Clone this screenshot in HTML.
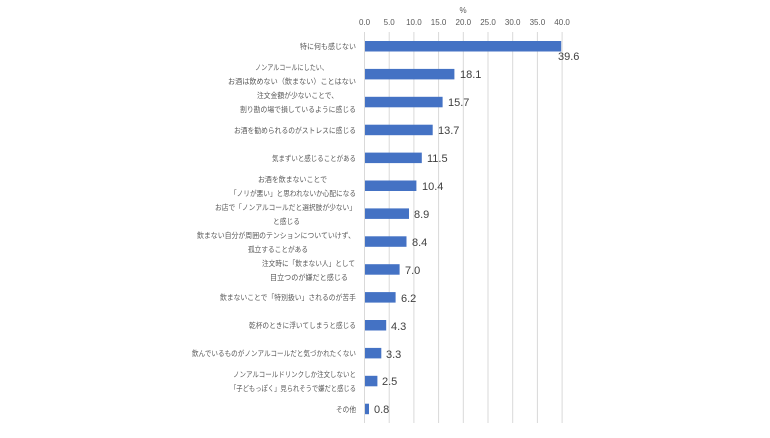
<!DOCTYPE html>
<html><head><meta charset="utf-8"><style>
html,body{margin:0;padding:0;background:#fff;}
svg text{font-family:"Liberation Sans","Noto Sans CJK JP",sans-serif;}
.l{font-size:7.6px;fill:#595959;}
.v{font-size:11px;fill:#404040;font-family:"DejaVu Sans","Liberation Sans",sans-serif;}
.t{font-size:8px;fill:#595959;}
</style></head><body>
<svg width="770" height="433" xmlns="http://www.w3.org/2000/svg">
<g stroke="#d9d9d9" stroke-width="1">
<line x1="389.2" y1="32" x2="389.2" y2="423"/><line x1="413.9" y1="32" x2="413.9" y2="423"/>
<line x1="438.6" y1="32" x2="438.6" y2="423"/><line x1="463.3" y1="32" x2="463.3" y2="423"/>
<line x1="488" y1="32" x2="488" y2="423"/><line x1="512.7" y1="32" x2="512.7" y2="423"/>
<line x1="537.4" y1="32" x2="537.4" y2="423"/><line x1="562.1" y1="32" x2="562.1" y2="423"/>
<line x1="364.5" y1="32" x2="364.5" y2="423"/>
</g>
<text x="463" y="13" class="t" text-anchor="middle">%</text>
<g class="t" text-anchor="middle">
<text x="364.5" y="25">0.0</text><text x="389.2" y="25">5.0</text><text x="413.9" y="25">10.0</text>
<text x="438.6" y="25">15.0</text><text x="463.3" y="25">20.0</text><text x="488" y="25">25.0</text>
<text x="512.7" y="25">30.0</text><text x="537.4" y="25">35.0</text><text x="562.1" y="25">40.0</text>
</g>
<g fill="#4472c4">
<rect x="365" y="41" width="196.2" height="10.5"/>
<rect x="365" y="68.9" width="89.4" height="10.5"/>
<rect x="365" y="96.8" width="77.6" height="10.5"/>
<rect x="365" y="124.7" width="67.7" height="10.5"/>
<rect x="365" y="152.6" width="56.8" height="10.5"/>
<rect x="365" y="180.5" width="51.4" height="10.5"/>
<rect x="365" y="208.4" width="44" height="10.5"/>
<rect x="365" y="236.3" width="41.5" height="10.5"/>
<rect x="365" y="264.2" width="34.6" height="10.5"/>
<rect x="365" y="292.1" width="30.6" height="10.5"/>
<rect x="365" y="320" width="21.2" height="10.5"/>
<rect x="365" y="347.9" width="16.3" height="10.5"/>
<rect x="365" y="375.8" width="12.4" height="10.5"/>
<rect x="365" y="403.7" width="4" height="10.5"/>
</g>
<g class="v">
<text x="558" y="60">39.6</text>
<text x="460" y="78">18.1</text>
<text x="448" y="106">15.7</text>
<text x="438" y="134">13.7</text>
<text x="427" y="162">11.5</text>
<text x="422" y="190">10.4</text>
<text x="414" y="218">8.9</text>
<text x="412" y="246">8.4</text>
<text x="405" y="274">7.0</text>
<text x="401" y="302">6.2</text>
<text x="391" y="330">4.3</text>
<text x="386" y="358">3.3</text>
<text x="382" y="385">2.5</text>
<text x="374" y="413">0.8</text>
</g>
<g class="l" lengthAdjust="spacingAndGlyphs">
<text x="300" y="49" textLength="56" lengthAdjust="spacingAndGlyphs">特に何も感じない</text>
<text x="234" y="133" textLength="122" lengthAdjust="spacingAndGlyphs">お酒を勧められるのがストレスに感じる</text>
<text x="272" y="161" textLength="84" lengthAdjust="spacingAndGlyphs">気まずいと感じることがある</text>
<text x="220" y="300" textLength="136" lengthAdjust="spacingAndGlyphs">飲まないことで「特別扱い」されるのが苦手</text>
<text x="249" y="328" textLength="107" lengthAdjust="spacingAndGlyphs">乾杯のときに浮いてしまうと感じる</text>
<text x="192" y="356" textLength="164" lengthAdjust="spacingAndGlyphs">飲んでいるものがノンアルコールだと気づかれたくない</text>
<text x="336" y="412" textLength="20" lengthAdjust="spacingAndGlyphs">その他</text>

<text x="255" y="70" textLength="73" lengthAdjust="spacingAndGlyphs">ノンアルコールにしたい、</text>
<text x="228" y="84" textLength="128" lengthAdjust="spacingAndGlyphs">お酒は飲めない（飲まない）ことはない</text>
<text x="257" y="98" textLength="81" lengthAdjust="spacingAndGlyphs">注文金額が少ないことで、</text>
<text x="240" y="112" textLength="116" lengthAdjust="spacingAndGlyphs">割り勘の場で損しているように感じる</text>
<text x="258" y="182" textLength="69" lengthAdjust="spacingAndGlyphs">お酒を飲まないことで</text>
<text x="230" y="196" textLength="126" lengthAdjust="spacingAndGlyphs">「ノリが悪い」と思われないか心配になる</text>
<text x="215" y="210" textLength="141" lengthAdjust="spacingAndGlyphs">お店で「ノンアルコールだと選択肢が少ない」</text>
<text x="273" y="224" textLength="27" lengthAdjust="spacingAndGlyphs">と感じる</text>
<text x="197" y="238" textLength="158" lengthAdjust="spacingAndGlyphs">飲まない自分が周囲のテンションについていけず、</text>
<text x="248" y="252" textLength="60" lengthAdjust="spacingAndGlyphs">孤立することがある</text>
<text x="262" y="266" textLength="93" lengthAdjust="spacingAndGlyphs">注文時に「飲まない人」として</text>
<text x="270" y="280" textLength="78" lengthAdjust="spacingAndGlyphs">目立つのが嫌だと感じる</text>
<text x="233" y="377" textLength="123" lengthAdjust="spacingAndGlyphs">ノンアルコールドリンクしか注文しないと</text>
<text x="230" y="391" textLength="126" lengthAdjust="spacingAndGlyphs">「子どもっぽく」見られそうで嫌だと感じる</text>
</g>
</svg>
</body></html>
